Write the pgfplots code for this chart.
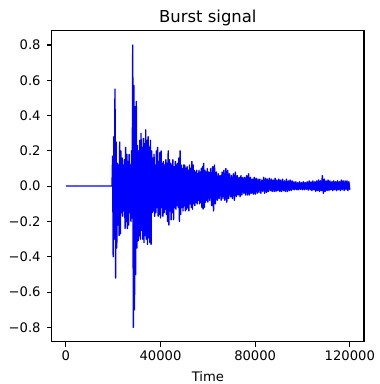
\documentclass[border=0pt]{standalone}
\usepackage{fontspec}
\setmainfont{DejaVu Sans}
\usepackage{pgfplots}
\pgfplotsset{compat=1.18}
\begin{document}
\begin{tikzpicture}
\begin{axis}[
  at={(0,0)}, anchor=south west,
  scale only axis, width=312.3bp, height=311bp,
  xmin=-6000, xmax=126000, ymin=-0.881, ymax=0.881,
  scaled x ticks=false, scaled y ticks=false,
  axis line style={line width=1.05bp, black},
  every tick/.style={black, line width=1.05bp},
  tick align=outside, major tick length=4.9bp,
  xtick pos=bottom, ytick pos=left,
  xtick={0,40000,80000,120000},
  xticklabels={0,40000,80000,120000},
  ytick={-0.8,-0.6,-0.4,-0.2,0,0.2,0.4,0.6,0.8},
  yticklabels={−0.8,−0.6,−0.4,−0.2,0.0,0.2,0.4,0.6,0.8},
  ticklabel style={font=\fontsize{13.2}{15}\selectfont, inner sep=0pt},
  xticklabel style={anchor=north, yshift=-4bp},
  yticklabel style={anchor=east, xshift=-6bp},
  title={Burst signal},
  title style={font=\fontsize{16.5}{19}\selectfont, at={(axis description cs:0.5,1)}, anchor=base, yshift=2.5bp, inner sep=0pt},
  xlabel={Time},
  xlabel style={font=\fontsize{13.2}{15}\selectfont, at={(axis description cs:0.5,0)}, anchor=base, yshift=-40bp, inner sep=0pt},
]
\addplot[blue, line width=1.4bp, line join=round, mark=none] coordinates {
(0,0.001) (19500,0.001)
(19750,0.17) (20000,-0.40) (20250,0.28) (20500,-0.30) (20750,0.55) (21000,-0.52) (21250,0.25) (21500,-0.35)
(21750,0.13) (22000,-0.22) (22250,0.12) (22500,-0.28) (22750,0.25) (23000,-0.27) (23250,0.20) (23500,-0.15)
(23750,0.16) (24000,-0.17) (24250,0.12) (24500,-0.14) (24750,0.15) (25000,-0.24) (25250,0.22) (25500,-0.20)
(25750,0.18) (26000,-0.24) (26250,0.14) (26500,-0.22) (26750,0.18) (27000,-0.15) (27250,0.12) (27500,-0.20)
(27750,0.20) (28000,-0.18) (28250,0.80) (28500,-0.80) (28750,0.57) (29000,-0.70) (29250,0.45) (29500,-0.50)
(29750,0.48) (30000,-0.35) (30250,0.23) (30500,-0.31) (30750,0.20) (31000,-0.28) (31250,0.26) (31500,-0.30)
(31750,0.30) (32000,-0.25) (32250,0.22) (32500,-0.30) (32750,0.27) (33000,-0.32) (33250,0.24) (33500,-0.28)
(33750,0.32) (34000,-0.30) (34250,0.26) (34500,-0.33) (34750,0.28) (35000,-0.29) (35250,0.22) (35500,-0.32)
(35750,0.26) (36000,-0.33) (36250,0.20) (36500,-0.15) (36750,0.16) (37000,-0.14) (37250,0.18) (37500,-0.17)
(37750,0.12) (38000,-0.15) (38250,0.20) (38500,-0.12) (38750,0.22) (39000,-0.17) (39250,0.14) (39500,-0.16)
(39750,0.19) (40000,-0.18) (40250,0.20) (40500,-0.12) (40750,0.13) (41000,-0.17) (41250,0.14) (41500,-0.15)
(41750,0.12) (42000,-0.13) (42250,0.15) (42500,-0.16) (42750,0.13) (43000,-0.20) (43250,0.20) (43500,-0.22)
(43750,0.15) (44000,-0.14) (44250,0.13) (44500,-0.19) (44750,0.12) (45000,-0.15) (45250,0.15) (45500,-0.19)
(45750,0.11) (46000,-0.12) (46250,0.14) (46500,-0.13) (46750,0.12) (47000,-0.11) (47250,0.13) (47500,-0.12)
(47750,0.16) (48000,-0.20) (48250,0.20) (48500,-0.16) (48750,0.12) (49000,-0.12) (49250,0.10) (49500,-0.14)
(49750,0.12) (50000,-0.11) (50250,0.12) (50500,-0.14) (50750,0.10) (51000,-0.13) (51250,0.11) (51500,-0.12)
(51750,0.09) (52000,-0.14) (52250,0.12) (52500,-0.10) (52750,0.10) (53000,-0.12) (53250,0.14) (53500,-0.13)
(53750,0.12) (54000,-0.10) (54250,0.09) (54500,-0.11) (54750,0.08) (55000,-0.09) (55250,0.09) (55500,-0.10)
(55750,0.07) (56000,-0.08) (56250,0.09) (56500,-0.10) (56750,0.08) (57000,-0.09) (57250,0.10) (57500,-0.12)
(57750,0.11) (58000,-0.13) (58250,0.13) (58500,-0.12) (58750,0.09) (59000,-0.09) (59250,0.08) (59500,-0.08)
(59750,0.10) (60000,-0.09)
(60400,0.08) (60800,-0.08) (61200,0.10) (61600,-0.11) (62000,0.11) (62400,-0.14) (62800,0.12) (63200,-0.10)
(63600,0.08) (64000,-0.08) (64400,0.07) (64800,-0.07) (65200,0.06) (65600,-0.08) (66000,0.08) (66400,-0.07)
(66800,0.09) (67200,-0.08) (67600,0.10) (68000,-0.09) (68400,0.09) (68800,-0.07) (69200,0.07) (69600,-0.06)
(70000,0.06) (70400,-0.07) (70800,0.07) (71200,-0.08) (71600,0.08) (72000,-0.06) (72400,0.06) (72800,-0.05)
(73200,0.05) (73600,-0.06) (74000,0.06) (74400,-0.05) (74800,0.05) (75200,-0.04) (75600,0.05) (76000,-0.05)
(76400,0.06) (76800,-0.05) (77200,0.07) (77600,-0.05) (78000,0.05) (78400,-0.04) (78800,0.04) (79200,-0.045)
(79600,0.05) (80000,-0.045) (80400,0.045) (80800,-0.04) (81200,0.04) (81600,-0.035) (82000,0.04) (82400,-0.04)
(82800,0.035) (83200,-0.03) (83600,0.05) (84000,-0.04) (84400,0.045) (84800,-0.035) (85200,0.04) (85600,-0.03)
(86000,0.045) (86400,-0.025) (86800,0.04) (87200,-0.03) (87600,0.035) (88000,-0.03) (88400,0.045) (88800,-0.03)
(89200,0.035) (89600,-0.025) (90000,0.04) (90400,-0.03) (90800,0.035) (91200,-0.03) (91600,0.04) (92000,-0.025)
(92400,0.03) (92800,-0.03) (93200,0.04) (93600,-0.03) (94000,0.03) (94400,-0.025) (94800,0.035) (95200,-0.025)
(95600,0.03) (96000,-0.02) (96400,0.025) (96800,-0.02) (97200,0.025) (97600,-0.02) (98000,0.02) (98400,-0.02)
(98800,0.025) (99200,-0.018) (99600,0.02) (100000,-0.02) (100400,0.025) (100800,-0.02) (101200,0.02) (101600,-0.018)
(102000,0.025) (102400,-0.022) (102800,0.03) (103200,-0.02) (103600,0.025) (104000,-0.025) (104400,0.03) (104800,-0.02)
(105200,0.025) (105600,-0.03) (106000,0.03) (106400,-0.025) (106800,0.035) (107200,-0.03) (107600,0.03) (108000,-0.025)
(108400,0.06) (108800,-0.04) (109200,0.04) (109600,-0.03) (110000,0.03) (110400,-0.025) (110800,0.035) (111200,-0.025)
(111600,0.03) (112000,-0.02) (112400,0.025) (112800,-0.025) (113200,0.03) (113600,-0.02) (114000,0.025) (114400,-0.025)
(114800,0.03) (115200,-0.02) (115600,0.025) (116000,-0.025) (116400,0.035) (116800,-0.02) (117200,0.03) (117600,-0.025)
(118000,0.03) (118400,-0.02) (118800,0.03) (119200,-0.025) (119600,0.025) (120000,-0.02)
};
\end{axis}
\pgfresetboundingbox
\path[use as bounding box] (-51.7bp,-42.3bp) rectangle (328.3bp,341.7bp);
\end{tikzpicture}
\end{document}
